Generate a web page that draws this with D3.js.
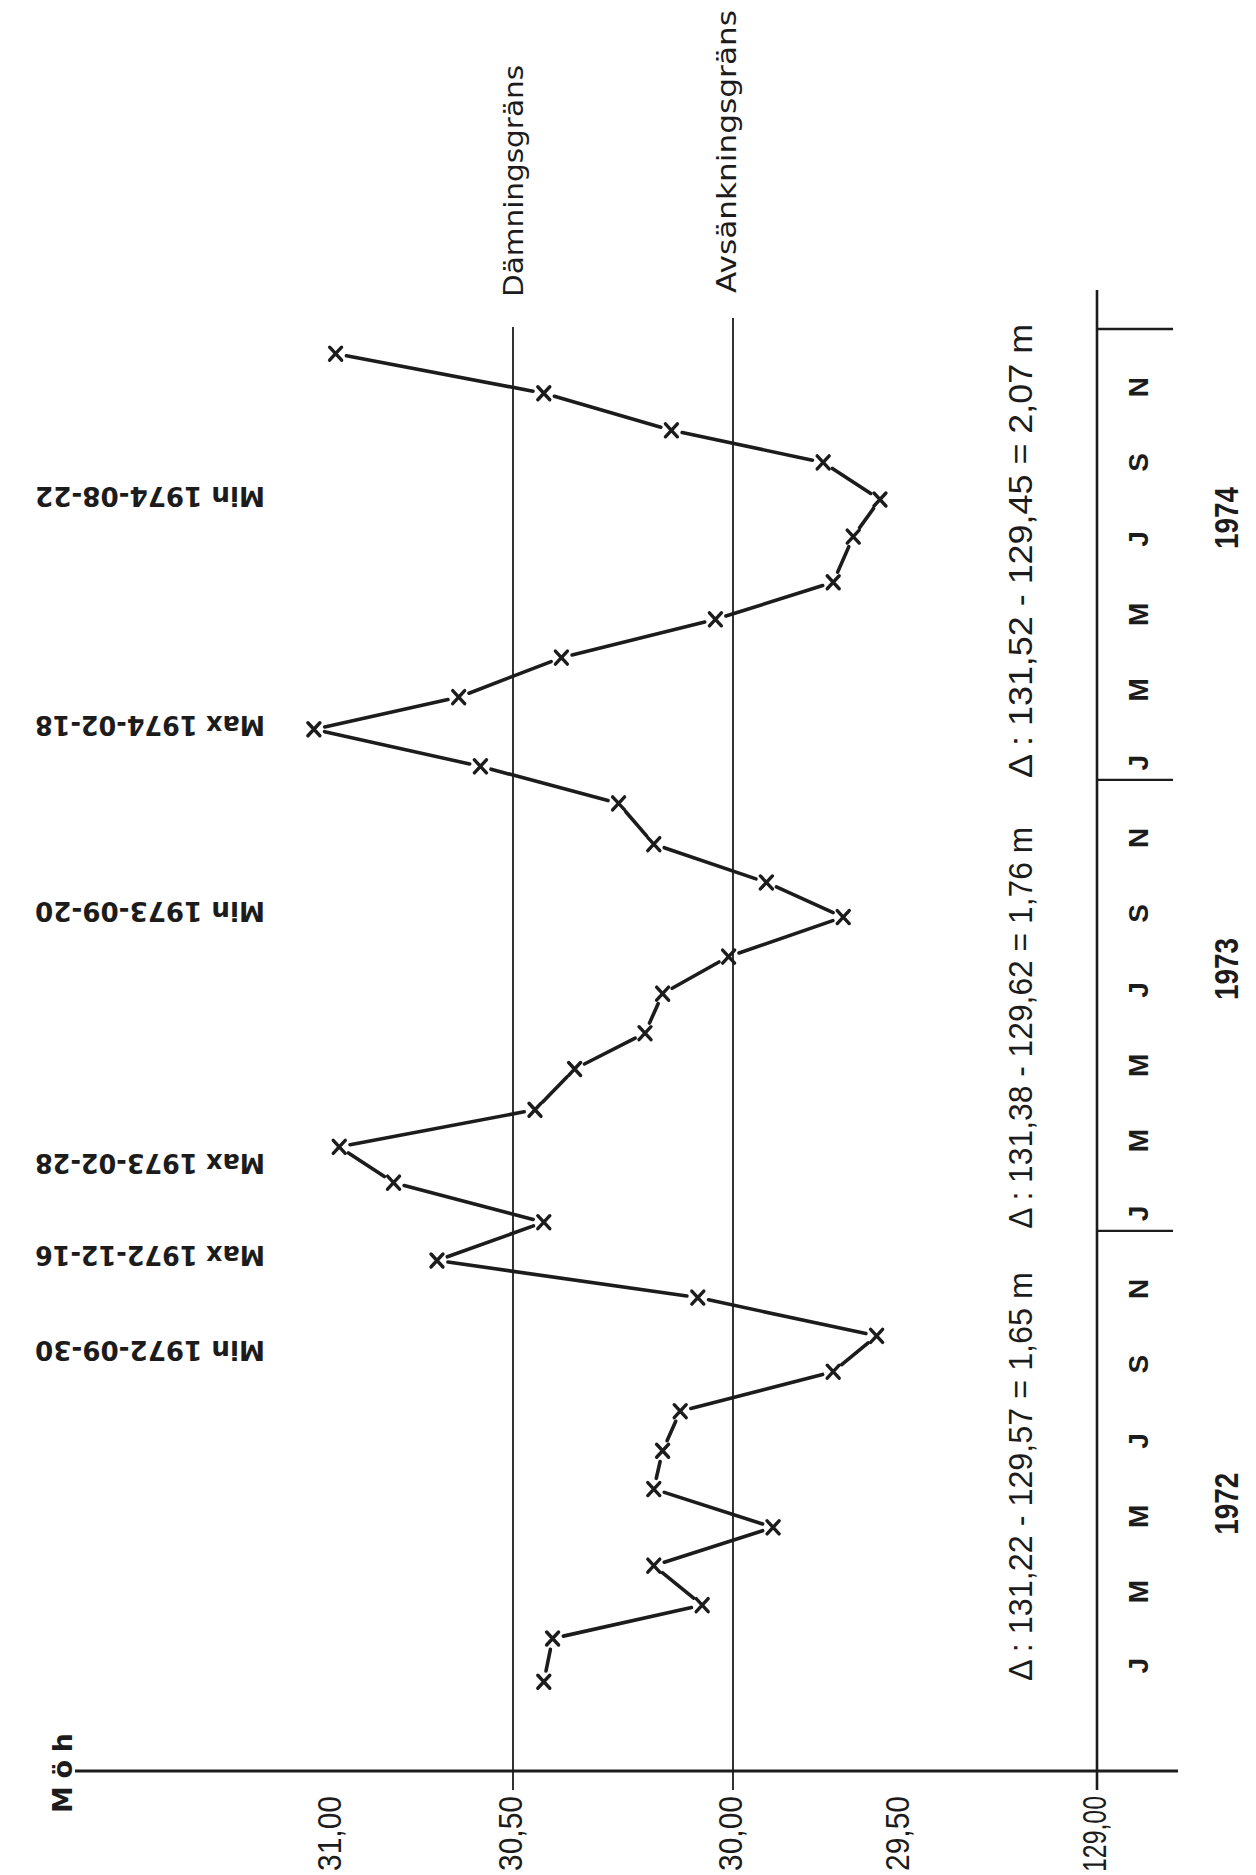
<!DOCTYPE html>
<html><head><meta charset="utf-8">
<script src="https://cdn.jsdelivr.net/npm/d3@7"></script>
<style>html,body{margin:0;padding:0;background:#fff;overflow:hidden}</style>
</head><body>
<svg id="chart" width="1256" height="1875"></svg>
<script>
// ---- data ----
const dates = ["1972-01-02","1972-02-06","1972-03-04","1972-04-05","1972-05-06","1972-06-06",
  "1972-07-07","1972-08-08","1972-09-09","1972-10-08","1972-11-08","1972-12-08",
  "1973-01-08","1973-02-09","1973-03-10","1973-04-09","1973-05-12","1973-06-10",
  "1973-07-12","1973-08-11","1973-09-12","1973-10-10","1973-11-10","1973-12-13",
  "1974-01-12","1974-02-11","1974-03-09","1974-04-10","1974-05-11","1974-06-10",
  "1974-07-17","1974-08-16","1974-09-15","1974-10-11","1974-11-10","1974-12-12"];
const levels = [130.43,130.41,130.07,130.18,129.88,130.18,
  130.16,130.12,129.70,129.57,130.08,130.71,
  130.43,130.83,130.98,130.45,130.36,130.20,
  130.16,130.01,129.67,129.90,130.18,130.26,
  130.59,131.05,130.65,130.39,130.04,129.70,
  129.64,129.56,129.73,130.14,130.43,130.99];
const valueTicks = [131, 130.5, 130, 129.5, 129];
const valueTickLabels = ["31,00","30,50","30,00","29,50","129,00"];
const years = [1972, 1973, 1974];
const yearLabelDates = ["1972-05-25","1973-08-01","1974-08-01"];
const monthLabels = ["J","M","M","J","S","N"];
const monthNumbers = [0, 2, 4, 6, 8, 10];
const refLevels = [130.5, 130.0];
const refNames = ["Dämningsgräns","Avsänkningsgräns"];
const extremaLabels = ["Min 1974-08-22","Max 1974-02-18","Min 1973-09-20","Max 1973-02-28","Max 1972-12-16","Min 1972-09-30"];
const extremaDates = ["1974-08-22","1974-02-18","1973-09-20","1973-02-28","1972-12-16","1972-09-30"];
const deltaLabels = ["\u0394 : 131,22 - 129,57 = 1,65 m","\u0394 : 131,38 - 129,62 = 1,76 m","\u0394 : 131,52 - 129,45 = 2,07 m"];
const unitLabel = "M ö h";

// ---- drawing ----
const parse = d3.timeParse("%Y-%m-%d");
const svg = d3.select("#chart");
svg.append("rect").attr("width",1256).attr("height",1875).attr("fill","#fff");
const ink = "#1c1c1c";

const x = d3.scaleLinear().domain(valueTicks).range([332, 513, 733, 900, 1097]);
const y = d3.scaleTime().domain([new Date(1972,0,1), new Date(1975,0,1)]).range([1683, 329]);
const axisY = 1771;

// bottom value axis (labels via d3 axis)
const ax = svg.append("g").attr("transform", `translate(0,${axisY})`)
  .call(d3.axisBottom(x).tickValues(valueTicks).tickSize(0)
        .tickFormat((d,i) => valueTickLabels[i]));
ax.select(".domain").remove();
ax.selectAll("text")
  .attr("x", 0).attr("y", 0).attr("dy", null)
  .attr("transform", "translate(-4,25) rotate(-90)")
  .attr("text-anchor", "end").attr("dominant-baseline", "central")
  .attr("font-family", "Liberation Sans, Arial, sans-serif")
  .attr("font-size", 34).attr("fill", ink)
  .attr("lengthAdjust", "spacingAndGlyphs")
  .attr("textLength", (d,i) => valueTickLabels[i].length > 5 ? 76 : 75);
svg.append("line").attr("x1", 75).attr("x2", 1178).attr("y1", axisY).attr("y2", axisY)
  .attr("stroke", ink).attr("stroke-width", 3);

// unit label
svg.append("text").text(unitLabel)
  .attr("transform", `translate(62,${axisY + 2}) rotate(-90)`)
  .attr("text-anchor", "middle").attr("dominant-baseline", "central")
  .attr("font-family", "DejaVu Sans, sans-serif").attr("font-weight", "bold")
  .attr("font-size", 27).attr("fill", ink)
  .attr("textLength", 80).attr("lengthAdjust", "spacing");

// reference lines
refLevels.forEach((v, i) => {
  svg.append("line").attr("x1", x(v)).attr("x2", x(v))
    .attr("y1", i === 0 ? 327 : 318).attr("y2", 1790)
    .attr("stroke", ink).attr("stroke-width", 1.8);
  svg.append("text").text(refNames[i])
    .attr("transform", `translate(${x(v) - (i === 0 ? 0 : 7)},${i === 0 ? 297 : 293}) rotate(-90)`)
    .attr("text-anchor", "start").attr("dominant-baseline", "central")
    .attr("font-family", "DejaVu Sans, sans-serif").attr("font-size", 27).attr("fill", ink)
    .attr("textLength", i === 0 ? 232 : 283).attr("lengthAdjust", "spacingAndGlyphs");
});

// time axis
const tX = x(129);
svg.append("line").attr("x1", tX).attr("x2", tX).attr("y1", 290).attr("y2", 1790)
  .attr("stroke", ink).attr("stroke-width", 2.6);
years.concat([1975]).slice(1).forEach(yr => {
  const yy = y(new Date(yr, 0, 1));
  svg.append("line").attr("x1", tX).attr("x2", tX + 76).attr("y1", yy).attr("y2", yy)
    .attr("stroke", ink).attr("stroke-width", 2.4);
});
years.forEach((yr, yi) => {
  monthNumbers.forEach((m, mi) => {
    svg.append("text").text(monthLabels[mi])
      .attr("transform", `translate(1138,${y(new Date(yr, m, 15))}) rotate(-90)`)
      .attr("text-anchor", "middle").attr("dominant-baseline", "central")
      .attr("font-family", "Liberation Sans, Arial, sans-serif").attr("font-weight", "bold")
      .attr("font-size", 28).attr("fill", ink);
  });
  svg.append("text").text(String(yr))
    .attr("transform", `translate(1226,${y(parse(yearLabelDates[yi]))}) rotate(-90)`)
    .attr("text-anchor", "middle").attr("dominant-baseline", "central")
    .attr("font-family", "Liberation Sans, Arial, sans-serif").attr("font-weight", "bold")
    .attr("font-size", 33).attr("fill", ink)
    .attr("textLength", 62).attr("lengthAdjust", "spacingAndGlyphs");
  svg.append("text").text(deltaLabels[yi])
    .attr("transform", `translate(1020,${y(new Date(yr, 0, 1)) - 2}) rotate(-90)`)
    .attr("text-anchor", "start").attr("dominant-baseline", "central")
    .attr("font-family", "Liberation Sans, Arial, sans-serif")
    .attr("font-size", 34).attr("fill", ink)
    .attr("textLength", [409, 402, 454][yi]).attr("lengthAdjust", "spacingAndGlyphs");
});

// extrema labels (upside down)
extremaLabels.forEach((t, i) => {
  svg.append("text").text(t)
    .attr("transform", `translate(265,${y(parse(extremaDates[i])) + 4}) rotate(180)`)
    .attr("text-anchor", "start").attr("dominant-baseline", "central")
    .attr("font-family", "DejaVu Sans, sans-serif").attr("font-weight", "bold")
    .attr("font-size", 26).attr("fill", ink)
    .attr("textLength", 230).attr("lengthAdjust", "spacingAndGlyphs");
});

// data series: segments with gaps around markers
const pts = dates.map((d, i) => [x(levels[i]), y(parse(d))]);
const gap = 11;
const segs = [];
for (let i = 0; i < pts.length - 1; i++) {
  const [x1, y1] = pts[i], [x2, y2] = pts[i + 1];
  const L = Math.hypot(x2 - x1, y2 - y1);
  if (L <= 2 * gap + 2) continue;
  const ux = (x2 - x1) / L, uy = (y2 - y1) / L;
  segs.push([x1 + ux * gap, y1 + uy * gap, x2 - ux * gap, y2 - uy * gap]);
}
svg.append("g").selectAll("line").data(segs).join("line")
  .attr("x1", d => d[0]).attr("y1", d => d[1]).attr("x2", d => d[2]).attr("y2", d => d[3])
  .attr("stroke", ink).attr("stroke-width", 3.6).attr("stroke-linecap", "round");
svg.append("g").selectAll("path").data(pts).join("path")
  .attr("d", "M-6,-6.5L6,6.5M-6,6.5L6,-6.5")
  .attr("transform", d => `translate(${d[0]},${d[1]})`)
  .attr("stroke", ink).attr("stroke-width", 3.4).attr("stroke-linecap", "round").attr("fill", "none");
</script>
</body></html>
